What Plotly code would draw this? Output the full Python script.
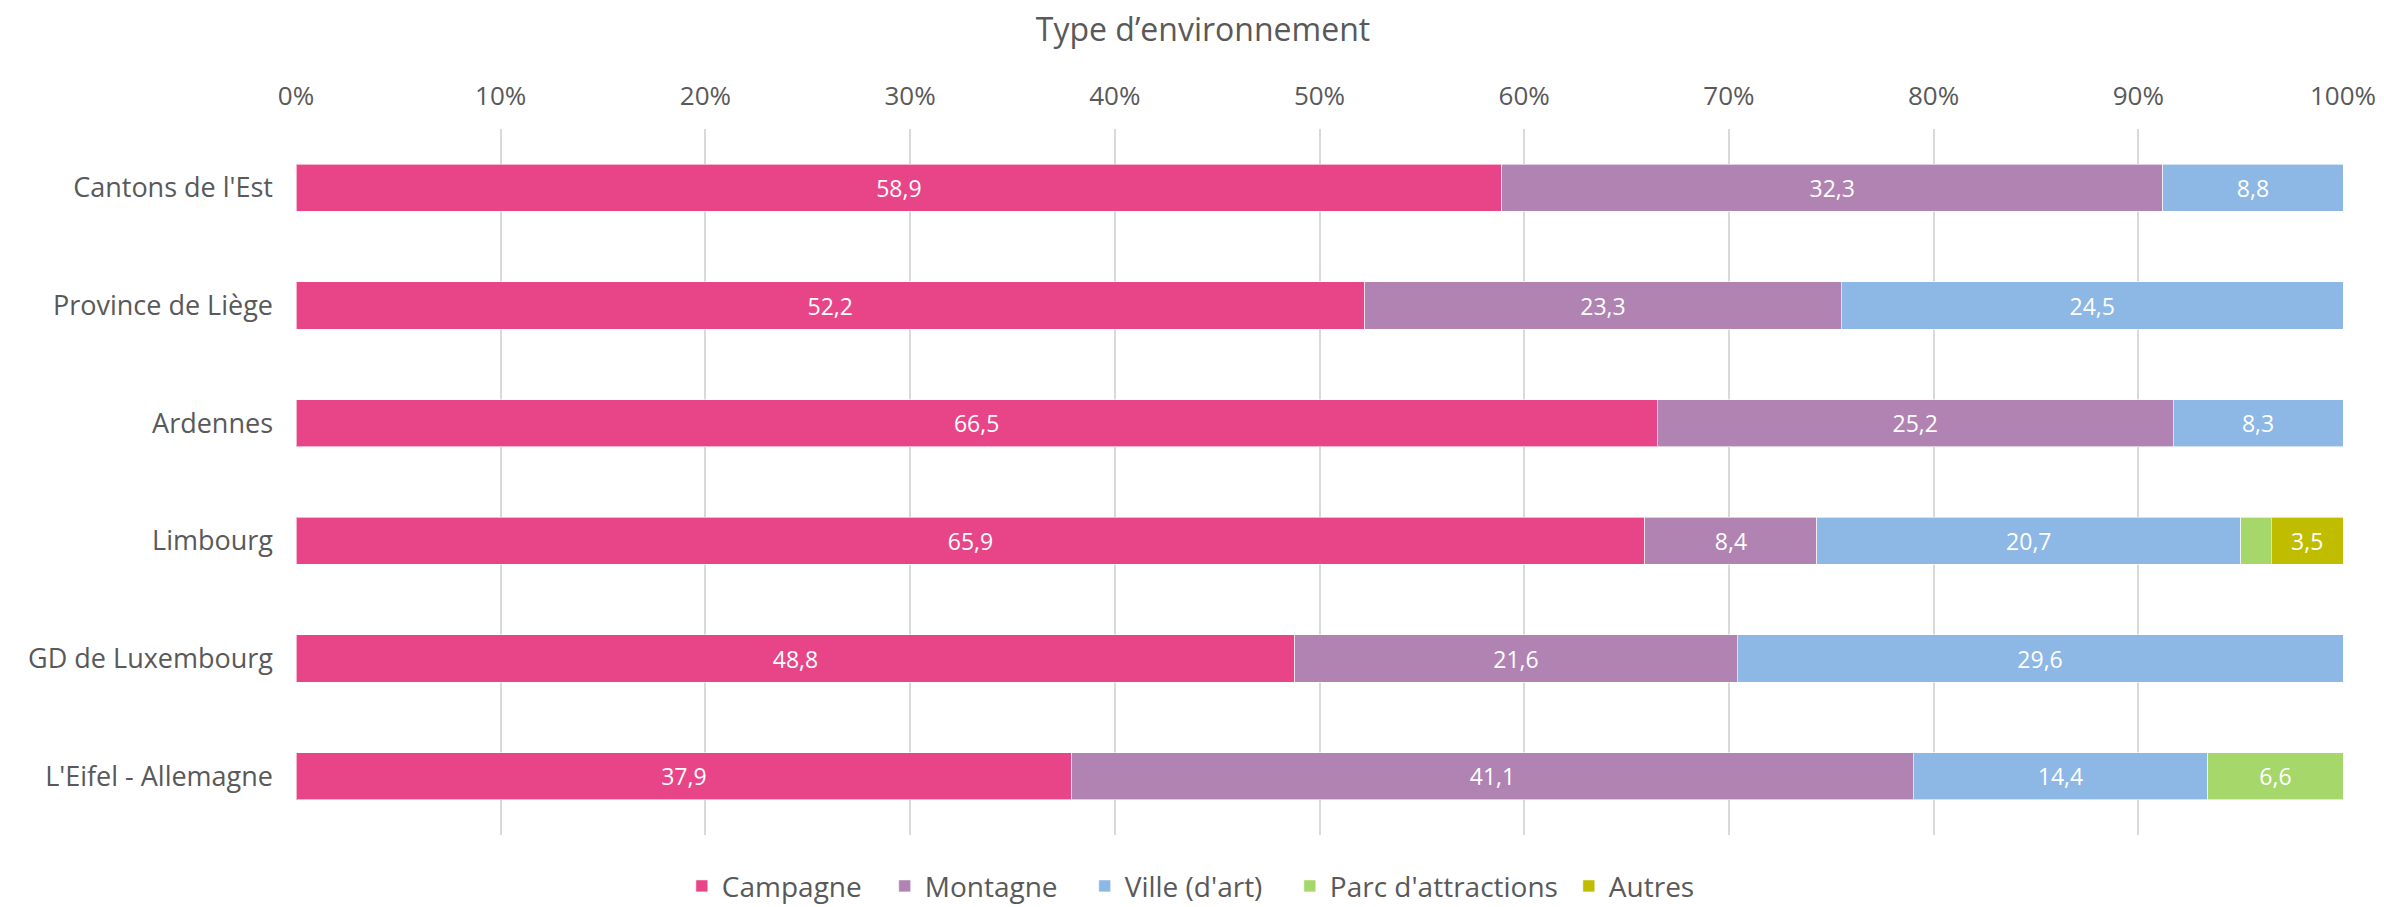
import plotly.graph_objects as go

regions = ["Cantons de l'Est", "Province de Liège", "Ardennes", "Limbourg",
           "GD de Luxembourg", "L'Eifel - Allemagne"]
campagne = [58.9, 52.2, 66.5, 65.9, 48.8, 37.9]
montagne = [32.3, 23.3, 25.2, 8.4, 21.6, 41.1]
ville = [8.8, 24.5, 8.3, 20.7, 29.6, 14.4]
parc = [0, 0, 0, 1.5, 0, 6.6]
autres = [0, 0, 0, 3.5, 0, 0]

series = [
    ("Campagne", campagne, "#E84588"),
    ("Montagne", montagne, "#B083B3"),
    ("Ville (d'art)", ville, "#8DB7E5"),
    ("Parc d'attractions", parc, "#A5D76A"),
    ("Autres", autres, "#C0BD00"),
]
legend_x = [0.1885, 0.2876, 0.3853, 0.4855, 0.6218]

FONT = "Open Sans"
GREY = "#595959"

W, H = 2376, 899

fig = go.Figure()
legend_layouts = {}
for i, (name, vals, col) in enumerate(series):
    txt = [f"{v:.1f}".replace(".", ",") if v >= 2 else "" for v in vals]
    lname = "legend" if i == 0 else f"legend{i + 1}"
    fig.add_trace(go.Bar(
        y=regions, x=vals, name=name, orientation="h",
        marker=dict(color=col, line=dict(color="rgba(255,255,255,0.6)", width=1)),
        text=txt, textposition="inside", insidetextanchor="middle",
        textangle=0, constraintext="none",
        textfont=dict(family=FONT, size=23, color="white"),
        hoverinfo="x+y+name",
        legend=lname, showlegend=True,
    ))
    legend_layouts[lname] = dict(
        orientation="h", x=legend_x[i], xref="paper", xanchor="left",
        y=-0.0725, yanchor="middle",
        font=dict(family=FONT, size=28, color=GREY),
        itemwidth=30, bgcolor="rgba(0,0,0,0)",
    )

fig.update_layout(
    barmode="stack",
    bargap=0.6,
    width=W, height=H,
    autosize=False,
    showlegend=True,
    margin=dict(l=288, r=41, t=121, b=72, autoexpand=False),
    paper_bgcolor="white", plot_bgcolor="white",
    font=dict(family=FONT, color=GREY, size=26),
    title=dict(text="Type d’environnement", x=1195 / W, xref="container", xanchor="center",
               y=1 - 22 / H, yref="container", yanchor="middle",
               font=dict(family=FONT, size=32, color=GREY)),
    xaxis=dict(side="top", range=[0, 100], dtick=10, ticksuffix="%",
               showgrid=True, gridcolor="#D9D9D9", gridwidth=1.5,
               zeroline=False, showline=False, ticks="",
               ticklabelstandoff=18,
               tickfont=dict(family=FONT, size=26, color=GREY), fixedrange=True),
    yaxis=dict(autorange="reversed", showgrid=False, showline=False, ticks="",
               ticklabelstandoff=22,
               tickfont=dict(family=FONT, size=27, color=GREY)),
    **legend_layouts,
)

fig.write_html("out.html")
